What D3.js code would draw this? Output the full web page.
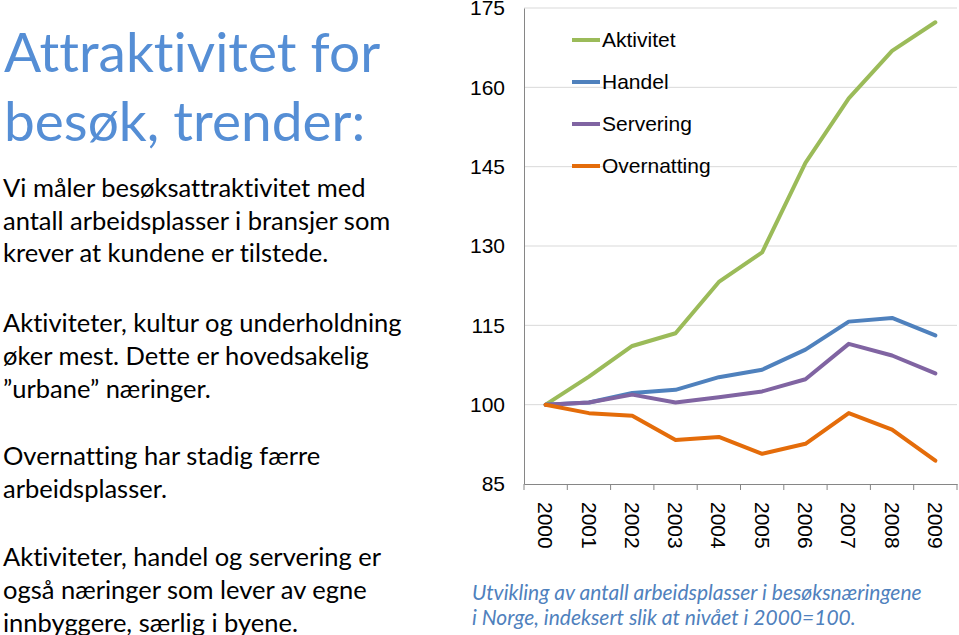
<!DOCTYPE html>
<html>
<head>
<meta charset="utf-8">
<script src="https://cdn.jsdelivr.net/npm/d3@7"></script>
<style>
  html, body { margin: 0; padding: 0; background: #fff; }
  svg { display: block; }
  text { font-variant-ligatures: none; font-feature-settings: "liga" 0; }
</style>
</head>
<body>
<svg id="chart" width="959" height="635"></svg>
<script>
const years = ["2000","2001","2002","2003","2004","2005","2006","2007","2008","2009"];
const aktivitet   = [100, 105.3, 111.1, 113.5, 123.2, 128.8, 145.7, 157.9, 166.9, 172.3];
const handel      = [100, 100.4, 102.2, 102.8, 105.2, 106.6, 110.4, 115.7, 116.4, 113.1];
const servering   = [100, 100.4, 101.9, 100.4, 101.4, 102.5, 104.8, 111.5, 109.3, 105.9];
const overnatting = [100, 98.4, 97.9, 93.3, 93.9, 90.7, 92.6, 98.4, 95.3, 89.4];
const seriesNames = ["Aktivitet", "Handel", "Servering", "Overnatting"];
const seriesColors = ["#9BBB59", "#4F81BD", "#8064A2", "#E46C0A"];
const yTicks = [85, 100, 115, 130, 145, 160, 175];

const titleLines = ["Attraktivitet for", "besøk, trender:"];
const bodyLines = [
  ["Vi måler besøksattraktivitet med", 197],
  ["antall arbeidsplasser i bransjer som", 230],
  ["krever at kundene er tilstede.", 262],
  ["Aktiviteter, kultur og underholdning", 332],
  ["øker mest. Dette er hovedsakelig", 365],
  ["”urbane” næringer.", 398],
  ["Overnatting har stadig færre", 465],
  ["arbeidsplasser.", 498],
  ["Aktiviteter, handel og servering er", 566],
  ["også næringer som lever av egne", 599],
  ["innbyggere, særlig i byene.", 632]
];
const captionLines = [
  "Utvikling av antall arbeidsplasser i besøksnæringene",
  "i Norge, indeksert slik at nivået i 2000=100."
];

const series = [aktivitet, handel, servering, overnatting];

const svg = d3.select("#chart");
const chartFont = "'Liberation Sans', Arial, sans-serif";
const textFont = "Lato, 'Open Sans', sans-serif";

// Left text panel
svg.append("g").selectAll("text").data(titleLines).join("text")
  .attr("x", 4)
  .attr("y", (d, i) => 72 + i * 69)
  .attr("font-family", textFont)
  .attr("font-size", 55)
  .attr("fill", "#558ED5")
  .text(d => d);

svg.append("g").selectAll("text").data(bodyLines).join("text")
  .attr("x", 3)
  .attr("y", d => d[1])
  .attr("font-family", textFont)
  .attr("font-size", 25.5)
  .attr("fill", "#000")
  .text(d => d[0]);

// Chart
const x = d3.scaleBand().domain(years).range([524, 957]);
const y = d3.scaleLinear().domain([85, 175]).range([484, 8]);

// gridlines
svg.append("g").selectAll("line").data(yTicks.slice(1)).join("line")
  .attr("x1", 524).attr("x2", 957)
  .attr("y1", d => y(d)).attr("y2", d => y(d))
  .attr("stroke", "#D9D9D9").attr("stroke-width", 1);

// y axis
const yAxis = svg.append("g")
  .attr("transform", "translate(524,0)")
  .call(d3.axisLeft(y).tickValues(yTicks).tickSize(0).tickPadding(19));
yAxis.select(".domain").attr("stroke", "#868686");
yAxis.selectAll("text").attr("font-family", chartFont).attr("font-size", 21).attr("fill", "#000");

// x axis
const xAxis = svg.append("g")
  .attr("transform", "translate(0,484)")
  .call(d3.axisBottom(x).tickSize(0).tickPadding(0).tickSizeOuter(0));
xAxis.select(".domain").attr("stroke", "#868686");
xAxis.selectAll("text")
  .attr("font-family", chartFont).attr("font-size", 21).attr("fill", "#000")
  .attr("transform", "rotate(90)")
  .attr("text-anchor", "start")
  .attr("x", 18).attr("y", 0).attr("dy", "0.35em");
// band boundary tick marks
const boundaries = years.map(d => x(d)).concat([x.range()[1]]);
svg.append("g").selectAll("line").data(boundaries).join("line")
  .attr("x1", d => d).attr("x2", d => d)
  .attr("y1", 484).attr("y2", 490)
  .attr("stroke", "#868686").attr("stroke-width", 1);

// lines
const line = d3.line()
  .x((d, i) => x(years[i]) + x.bandwidth() / 2)
  .y(d => y(d));
svg.append("g").selectAll("path").data(series).join("path")
  .attr("d", d => line(d))
  .attr("fill", "none")
  .attr("stroke", (d, i) => seriesColors[i])
  .attr("stroke-width", 4)
  .attr("stroke-linejoin", "round")
  .attr("stroke-linecap", "round");

// legend
const leg = svg.append("g").selectAll("g").data(seriesNames).join("g")
  .attr("transform", (d, i) => `translate(572,${40 + i * 42})`);
leg.append("line")
  .attr("x1", 0).attr("x2", 28).attr("y1", 0).attr("y2", 0)
  .attr("stroke", (d, i) => seriesColors[i]).attr("stroke-width", 4);
leg.append("text")
  .attr("x", 30).attr("y", 0).attr("dy", "0.35em")
  .attr("font-family", chartFont).attr("font-size", 21).attr("fill", "#000")
  .text(d => d);

// caption
svg.append("g").selectAll("text").data(captionLines).join("text")
  .attr("x", 472)
  .attr("y", (d, i) => 600 + i * 25)
  .attr("font-family", textFont)
  .attr("font-style", "italic")
  .attr("font-size", 21)
  .attr("fill", "#4F81BD")
  .text(d => d);
</script>
</body>
</html>
